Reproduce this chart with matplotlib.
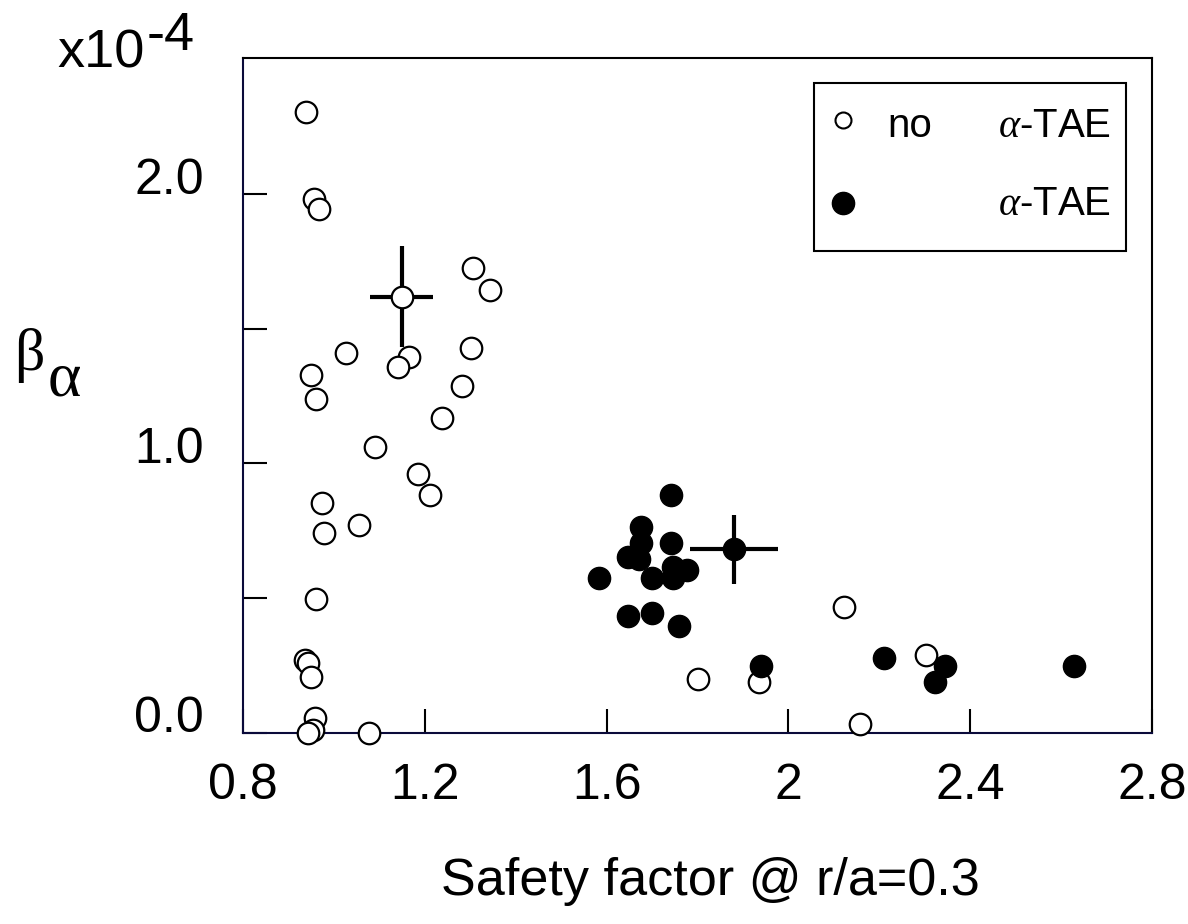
import matplotlib
matplotlib.use("Agg")
import matplotlib.pyplot as plt
from matplotlib.lines import Line2D
from matplotlib.patches import Rectangle

plt.rcParams['font.family'] = ['Liberation Sans', 'DejaVu Sans']
plt.rcParams['mathtext.fontset'] = 'custom'
plt.rcParams['mathtext.rm'] = 'Liberation Serif'
plt.rcParams['mathtext.it'] = 'Liberation Serif:italic'

# ---- data (beta_alpha in units of 1e-4) ----
q_no = [0.939, 0.956, 0.967, 1.306, 1.344, 1.027, 1.165, 1.141, 1.302, 0.950,
        0.961, 1.282, 1.238, 1.091, 1.185, 1.212, 0.973, 1.055, 0.979, 0.961,
        0.936, 0.943, 0.950, 0.958, 0.954, 0.943, 1.077, 1.801, 1.936, 2.123,
        2.158, 2.303]
b_no = [2.304, 1.981, 1.944, 1.725, 1.643, 1.409, 1.394, 1.357, 1.428, 1.328,
        1.238, 1.287, 1.168, 1.060, 0.960, 0.882, 0.851, 0.771, 0.742, 0.496,
        0.269, 0.258, 0.206, 0.054, 0.009, 0.000, 0.000, 0.198, 0.189, 0.465,
        0.030, 0.288]

q_tae = [1.741, 1.676, 1.676, 1.648, 1.672, 1.741, 1.747, 1.777, 1.700, 1.747,
         1.583, 1.647, 1.700, 1.760, 1.940, 2.211, 2.345, 2.322, 2.628]
b_tae = [0.881, 0.764, 0.705, 0.653, 0.643, 0.705, 0.616, 0.603, 0.573, 0.573,
         0.573, 0.434, 0.445, 0.395, 0.247, 0.278, 0.247, 0.186, 0.247]

# representative points with error bars
q_no_err, b_no_err, qerr_no, berr_no = [1.149], [1.618], [0.069], [0.188]
q_tae_err, b_tae_err, qerr_tae, berr_tae = [1.881], [0.681], [0.097], [0.128]

xticks = [0.8, 1.2, 1.6, 2.0, 2.4, 2.8]
xticklabels = ['0.8', '1.2', '1.6', '2', '2.4', '2.8']
yticks = [0.0, 0.5, 1.0, 1.5, 2.0]
yticklabels = ['0.0', '', '1.0', '', '2.0']

W, H = 1188, 924
fig = plt.figure(figsize=(W / 100, H / 100), dpi=100)
ax = fig.add_axes([243 / W, 1 - 732.5 / H, (1152 - 243) / W, (732.5 - 58) / H])

ax.errorbar(q_no_err, b_no_err, xerr=qerr_no, yerr=berr_no, fmt='none',
            ecolor='black', elinewidth=3, capsize=0, zorder=2)
ax.errorbar(q_tae_err, b_tae_err, xerr=qerr_tae, yerr=berr_tae, fmt='none',
            ecolor='black', elinewidth=3, capsize=0, zorder=2)

ax.plot(q_no + q_no_err, b_no + b_no_err, linestyle='none', marker='o',
        markersize=15.5, markerfacecolor='white', markeredgecolor='black',
        markeredgewidth=1.6, zorder=3, clip_on=False)
ax.plot(q_tae + q_tae_err, b_tae + b_tae_err, linestyle='none', marker='o',
        markersize=16, markerfacecolor='black', markeredgecolor='black',
        markeredgewidth=1, zorder=4, clip_on=False)

ax.set_xlim(0.8, 2.8)
ax.set_ylim(0.0, 2.505)
ax.set_xticks(xticks)
ax.set_xticklabels(xticklabels)
ax.set_yticks(yticks)
ax.set_yticklabels(yticklabels)
ax.tick_params(axis='both', direction='in', length=17, width=1.5,
               labelsize=36, color='black')
ax.tick_params(axis='x', pad=22)
ax.tick_params(axis='y', pad=28)
plt.setp(ax.get_yticklabels(), va='baseline')

for side in ['top', 'right']:
    ax.spines[side].set_linewidth(1.5)
    ax.spines[side].set_color('black')
for side in ['left', 'bottom']:
    ax.spines[side].set_linewidth(1.5)
    ax.spines[side].set_color('#0a0a3a')

# axis labels
fig.text(710 / W, 1 - 895 / H, 'Safety factor @ r/a=0.3', fontsize=37.5,
         ha='center', va='baseline')
fig.text(14 / W, 1 - 370 / H, 'β', fontsize=43, family='Liberation Serif',
         ha='left', va='baseline')
fig.text(48 / W, 1 - 395 / H, 'α', fontsize=46, family='Liberation Serif',
         ha='left', va='baseline')
# multiplier
fig.text(57 / W, 1 - 67 / H, 'x10', fontsize=39, ha='left', va='baseline')
fig.text(147 / W, 1 - 50 / H, '-4', fontsize=39, ha='left', va='baseline')

# legend box (manual, to reproduce right-aligned labels)
fig.add_artist(Rectangle((814 / W, 1 - 251 / H), (1126 - 814) / W,
                         (251 - 83) / H, transform=fig.transFigure,
                         facecolor='white', edgecolor='black', linewidth=1.5,
                         zorder=5))
fig.add_artist(Line2D([843 / W], [1 - 120 / H], transform=fig.transFigure,
                      marker='o', markersize=11.5, markerfacecolor='white',
                      markeredgecolor='black', markeredgewidth=1.5,
                      linestyle='none', zorder=6))
fig.add_artist(Line2D([843 / W], [1 - 203 / H], transform=fig.transFigure,
                      marker='o', markersize=16, markerfacecolor='black',
                      markeredgecolor='black', linestyle='none', zorder=6))
fig.text(887 / W, 1 - 137 / H, 'no', fontsize=29, ha='left', va='baseline',
         zorder=7)
for yb in (137, 215):
    fig.text(1111 / W, 1 - yb / H, r'$\alpha$-TAE', fontsize=29, ha='right',
             va='baseline', zorder=7)

fig.savefig('out.png', dpi=100, facecolor='white')
